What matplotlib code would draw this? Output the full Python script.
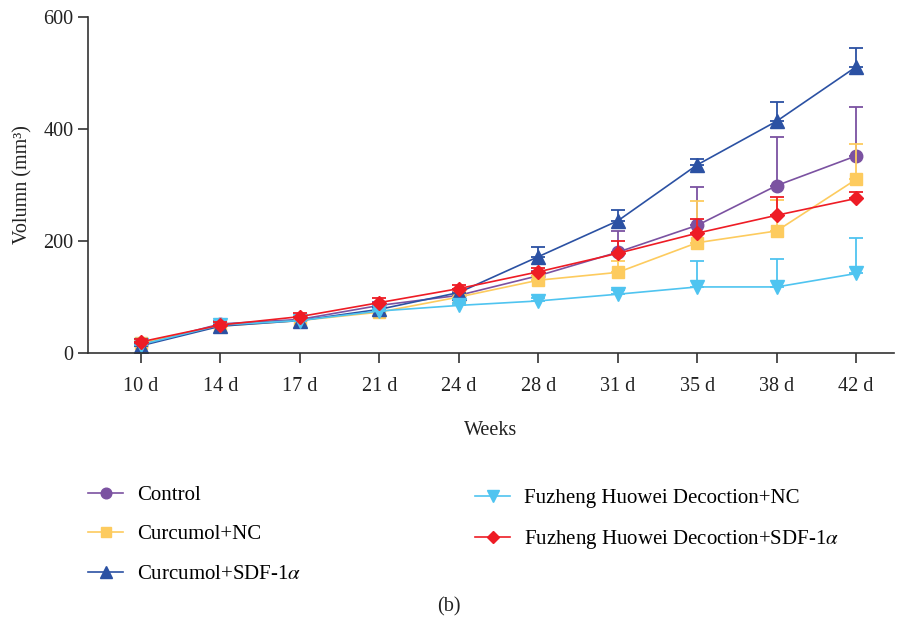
import matplotlib.pyplot as plt

plt.rcParams['font.family'] = ['Liberation Serif', 'DejaVu Serif']
plt.rcParams['mathtext.fontset'] = 'stix'

days = ['10 d', '14 d', '17 d', '21 d', '24 d', '28 d', '31 d', '35 d', '38 d', '42 d']

control = [15, 52, 60, 85, 103, 138, 180, 228, 299, 352]
control_err = [5, 5, 4, 6, 6, 8, 37, 69, 87, 88]

curc_nc = [18, 48, 58, 73, 100, 130, 144, 197, 218, 310]
curc_nc_err = [6, 5, 5, 5, 6, 8, 20, 75, 55, 64]

curc_sdf = [13, 48, 58, 78, 108, 172, 236, 336, 414, 511]
curc_sdf_err = [4, 4, 4, 5, 6, 17, 19, 10, 34, 33]

fz_nc = [15, 50, 58, 75, 85, 93, 105, 118, 118, 142]
fz_nc_err = [4, 4, 4, 4, 5, 6, 8, 47, 50, 63]

fz_sdf = [20, 50, 65, 90, 115, 145, 178, 214, 246, 276]
fz_sdf_err = [5, 5, 7, 8, 7, 7, 22, 25, 32, 12]

series = [
    ('Control', control, control_err, '#7B52A1', 'o', 9),
    ('Curcumol+NC', curc_nc, curc_nc_err, '#FDCB5E', 's', 9),
    (r'Curcumol+SDF-1$\alpha$', curc_sdf, curc_sdf_err, '#2B51A3', '^', 10),
    ('Fuzheng Huowei Decoction+NC', fz_nc, fz_nc_err, '#4FC4F0', 'v', 10),
    (r'Fuzheng Huowei Decoction+SDF-1$\alpha$', fz_sdf, fz_sdf_err, '#EE1C25', 'D', 7),
]

fig = plt.figure(figsize=(8.98, 6.2), dpi=100)
ax = fig.add_axes([0.098, 0.4306, 0.897, 0.542])

x = list(range(len(days)))
handles = []
for name, vals, err, col, mk, ms in series:
    ax.errorbar(x, vals, yerr=[[0] * len(err), err], fmt='none', ecolor=col,
                elinewidth=1.3, capsize=5, capthick=1.3)
    h, = ax.plot(x, vals, color=col, marker=mk, markersize=ms, linewidth=1.2,
                 markeredgecolor=col, label=name)
    handles.append(h)

ax.set_xlim(-0.666, 9.47)
ax.set_ylim(0, 600)
ax.set_yticks([0, 200, 400, 600])
ax.set_xticks(x)
ax.set_xticklabels(days)
ax.tick_params(labelsize=14.5, length=7, width=1.2, colors='#333333', labelcolor='#222222')
ax.tick_params(axis='x', pad=10)
for s in ['top', 'right']:
    ax.spines[s].set_visible(False)
for s in ['left', 'bottom']:
    ax.spines[s].set_linewidth(1.2)
    ax.spines[s].set_color('#333333')

ax.set_ylabel('Volumn (mm³)', fontsize=14.5, color='#222222', labelpad=8)
ax.set_xlabel('Weeks', fontsize=14.5, color='#222222', labelpad=18)

leg_kw = dict(loc='upper left', frameon=False, fontsize=15, borderpad=0,
              borderaxespad=0, labelspacing=0.95, handlelength=1.7,
              handletextpad=0.65, markerscale=0.85)
leg1 = fig.legend(handles=handles[:3], bbox_to_anchor=(0.098, 0.217), **leg_kw)
leg2 = fig.legend(handles=handles[3:], bbox_to_anchor=(0.529, 0.212), **leg_kw)

fig.text(0.5, 0.013, '(b)', ha='center', fontsize=14.5, color='#222222')

fig.savefig('out.png', dpi=100)
